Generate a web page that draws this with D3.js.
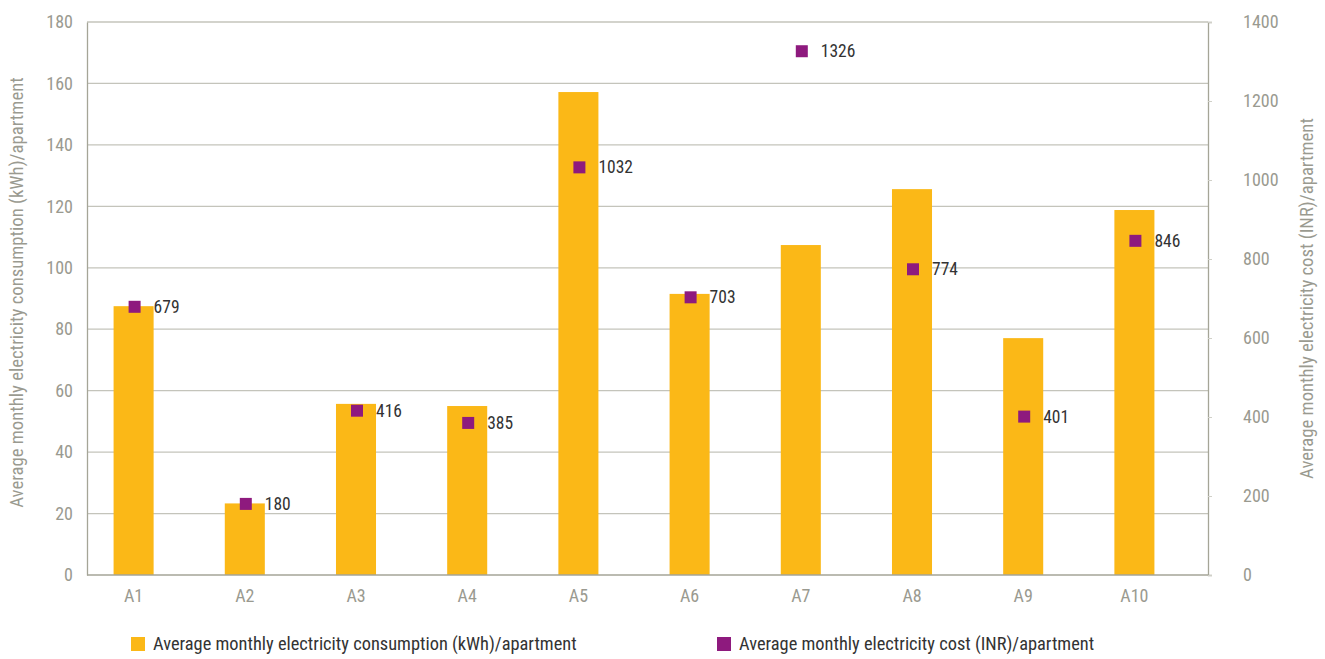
<!DOCTYPE html>
<html>
<head>
<meta charset="utf-8">
<script src="https://cdn.jsdelivr.net/npm/d3@7"></script>
<style>
  body { margin: 0; background: #fff; }
  text { font-family: "Roboto Condensed", "Liberation Sans Narrow", "DejaVu Sans Condensed", "Roboto", sans-serif; }
</style>
</head>
<body>
<div id="chart"></div>
<script>
let apartments = ["A1", "A2", "A3", "A4", "A5", "A6", "A7", "A8", "A9", "A10"];
let consumption = [87.5, 23.3, 55.7, 55.0, 157.2, 91.5, 107.4, 125.6, 77.1, 118.8];
let cost = [679, 180, 416, 385, 1032, 703, 1326, 774, 401, 846];
let leftTicks = [0, 20, 40, 60, 80, 100, 120, 140, 160, 180];
let rightTicks = [0, 200, 400, 600, 800, 1000, 1200, 1400];
let seriesNames = ["Average monthly electricity consumption (kWh)/apartment", "Average monthly electricity cost (INR)/apartment"];

let W = 1325, H = 659;
let plotL = 87, plotR = 1208, plotT = 22, plotB = 575;
let barColor = "#fbb817", dotColor = "#8e1a7e";
let gridColor = "#c4c4bb", axisColor = "#a5a597", tickText = "#9a9a90";

let svg = d3.select("#chart").append("svg")
	.attr("width", W)
	.attr("height", H);

let x = d3.scaleBand()
	.domain(apartments)
	.range([78, 1190])
	.paddingInner(0.64)
	.paddingOuter(0.32);

let yL = d3.scaleLinear().domain([0, 180]).range([plotB, plotT]);
let yR = d3.scaleLinear().domain([0, 1400]).range([plotB, plotT]);

// gridlines
svg.append("g")
	.selectAll("line")
	.data(leftTicks.filter((d) => d > 0))
	.enter().append("line")
	.attr("x1", plotL).attr("x2", plotR)
	.attr("y1", (d) => yL(d)).attr("y2", (d) => yL(d))
	.attr("stroke", gridColor)
	.attr("stroke-width", 1.3);

// left axis
let gl = svg.append("g")
	.attr("transform", `translate(${plotL},0)`)
	.call(d3.axisLeft(yL).tickValues(leftTicks).tickSize(0).tickPadding(14));
gl.select(".domain").attr("stroke", axisColor).attr("stroke-width", 1.3);
gl.selectAll("text").attr("fill", tickText).attr("font-size", 18).attr("font-family", null);

// right axis
let gr = svg.append("g")
	.attr("transform", `translate(${plotR},0)`)
	.call(d3.axisRight(yR).tickValues(rightTicks).tickFormat(d3.format("d")).tickSize(4).tickPadding(31));
gr.select(".domain").attr("stroke", axisColor).attr("stroke-width", 1.3);
gr.selectAll(".tick line").attr("stroke", "#d0d0c8");
gr.selectAll("text").attr("fill", tickText).attr("font-size", 18).attr("font-family", null);

// bars
svg.append("g")
	.selectAll("rect")
	.data(apartments)
	.enter().append("rect")
	.attr("x", (d) => x(d))
	.attr("width", x.bandwidth())
	.attr("y", (d, i) => yL(consumption[i]))
	.attr("height", (d, i) => yL(0) - yL(consumption[i]))
	.attr("fill", barColor);

// bottom axis
let gb = svg.append("g")
	.attr("transform", `translate(0,${plotB})`)
	.call(d3.axisBottom(x).tickSize(0).tickPadding(14));
gb.select(".domain").remove();
gb.selectAll("text").attr("fill", tickText).attr("font-size", 18).attr("font-family", null);
svg.append("line")
	.attr("x1", plotL).attr("x2", plotR)
	.attr("y1", plotB).attr("y2", plotB)
	.attr("stroke", axisColor).attr("stroke-width", 1.3);

// cost markers
let mk = 12;
let pts = svg.append("g")
	.selectAll("g")
	.data(apartments)
	.enter().append("g")
	.attr("transform", (d, i) => `translate(${x(d) + x.bandwidth() / 2 + 1},${yR(cost[i])})`);
pts.append("rect")
	.attr("x", -mk / 2).attr("y", -mk / 2)
	.attr("width", mk).attr("height", mk)
	.attr("fill", dotColor);
pts.append("text")
	.attr("x", 19)
	.attr("dy", "0.35em")
	.attr("font-size", 17.5)
	.attr("fill", "#333")
	.text((d, i) => cost[i]);

// axis titles
svg.append("text")
	.attr("transform", `translate(23,${(plotT + plotB) / 2 - 6}) rotate(-90)`)
	.attr("text-anchor", "middle")
	.attr("font-size", 18.7)
	.attr("fill", tickText)
	.text("Average monthly electricity consumption (kWh)/apartment");
svg.append("text")
	.attr("transform", `translate(1313,${(plotT + plotB) / 2}) rotate(-90)`)
	.attr("text-anchor", "middle")
	.attr("font-size", 18.7)
	.attr("fill", tickText)
	.text("Average monthly electricity cost (INR)/apartment");

// legend
let legendX = [131, 717];
let legend = svg.append("g")
	.selectAll("g")
	.data(seriesNames)
	.enter().append("g")
	.attr("transform", (d, i) => `translate(${legendX[i]},644)`);
legend.append("rect")
	.attr("x", 0).attr("y", -7)
	.attr("width", 14).attr("height", 14)
	.attr("fill", (d, i) => i === 0 ? barColor : dotColor);
legend.append("text")
	.attr("x", 22)
	.attr("dy", "0.35em")
	.attr("font-size", 18.4)
	.attr("fill", "#333")
	.text((d) => d);
</script>
</body>
</html>
